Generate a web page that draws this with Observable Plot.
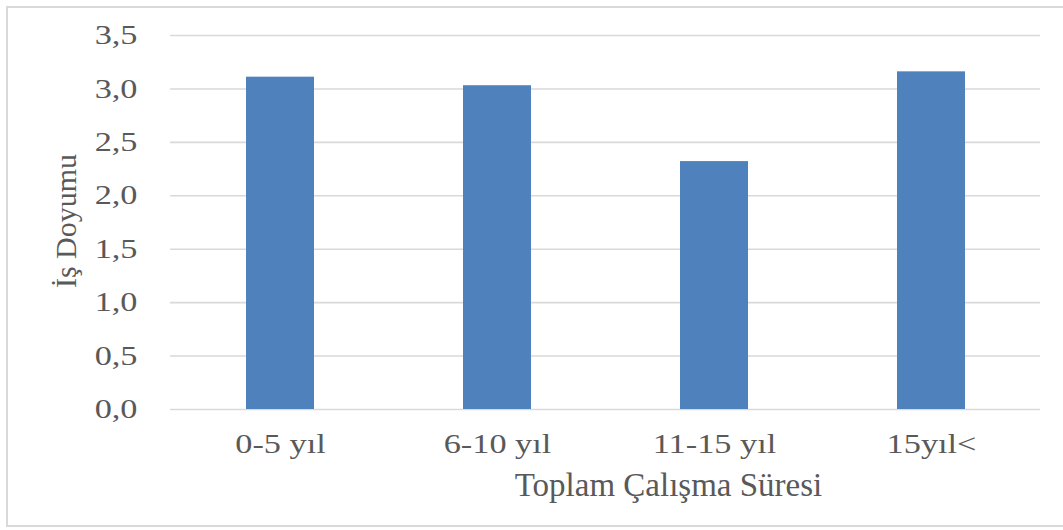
<!DOCTYPE html>
<html>
<head>
<meta charset="utf-8">
<script src="https://cdn.jsdelivr.net/npm/d3@7"></script>
<script src="https://cdn.jsdelivr.net/npm/@observablehq/plot@0.6"></script>
<style>
  html, body { margin: 0; padding: 0; background: #fff; }
  #chart { position: relative; width: 1063px; height: 530px; overflow: hidden; }
  #border {
    position: absolute; left: 6px; top: 6px; width: 1080px; height: 521px;
    border: 2px solid #d9d9d9; box-sizing: border-box; pointer-events: none;
  }
  #chart svg { position: absolute; left: 0; top: 0; }
</style>
</head>
<body>
<div id="chart"><div id="border"></div></div>
<script>
// Mean job satisfaction by total years of work
const categories = ["0-5 yıl", "6-10 yıl", "11-15 yıl", "15yıl<"];
const satisfaction = [3.11, 3.03, 2.32, 3.16];
const yTicks = [0, 0.5, 1, 1.5, 2, 2.5, 3, 3.5];
const xTitle = "Toplam Çalışma Süresi";
const yTitle = "İş Doyumu";

const rows = categories.map((c, i) => ({category: c, value: satisfaction[i]}));
const comma = d => d3.format(".1f")(d).replace(".", ",");
const textColor = "#595959";

const chart = Plot.plot({
  width: 1063,
  height: 530,
  marginLeft: 170,
  marginRight: 23,
  marginTop: 35,
  marginBottom: 121,
  style: {fontFamily: "'Liberation Serif', 'Times New Roman', serif", fontSize: "27px", color: textColor, background: "transparent"},
  x: {domain: categories, paddingInner: 0.688, paddingOuter: 0.344, label: null},
  y: {domain: [0, 3.5], label: null},
  marks: [
    Plot.gridY(yTicks, {stroke: "#d9d9d9", strokeOpacity: 1, strokeWidth: 1.6}),
    Plot.barY(rows, {x: "category", y: "value", fill: "#4f81bd"}),
    Plot.axisY(yTicks, {tickSize: 0, tickPadding: 33, tickFormat: comma, fill: textColor, fontSize: 27, label: null}),
    Plot.axisX({tickSize: 0, tickPadding: 24.5, fill: textColor, fontSize: 27, label: null}),
    Plot.text([xTitle], {frameAnchor: "bottom", dx: 63, dy: 86, lineAnchor: "bottom", fill: textColor, fontSize: 33}),
    Plot.text([yTitle], {frameAnchor: "left", dx: -95, dy: -1.5, rotate: -90, textAnchor: "middle", lineAnchor: "bottom", fill: textColor, fontSize: 30})
  ]
});

// Tick labels use a slightly wide set: stretch each one horizontally about its anchor.
const stretch = 1.27;
d3.select(chart).selectAll('g[aria-label$="tick label"] text').each(function() {
  const t = this.getAttribute("transform") || "";
  this.setAttribute("transform", `${t} scale(${stretch},1)`);
  const x = this.getAttribute("x");
  if (x != null && x !== "") this.setAttribute("x", +x / stretch);
});

document.getElementById("chart").appendChild(chart);
</script>
</body>
</html>
